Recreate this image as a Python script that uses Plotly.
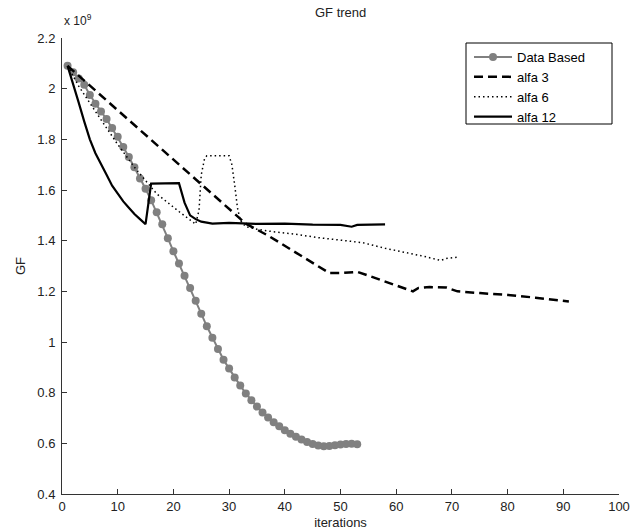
import plotly.graph_objects as go

# Values in units of 1e9 (axis shows "x 10^9")
data_x = list(range(1, 54))
data_y = [2.09, 2.065, 2.04, 2.015, 1.975, 1.94, 1.91, 1.88, 1.845, 1.81,
          1.77, 1.73, 1.69, 1.645, 1.605, 1.56, 1.512, 1.465, 1.41, 1.358,
          1.31, 1.262, 1.213, 1.163, 1.112, 1.062, 1.017, 0.972, 0.93, 0.895,
          0.86, 0.828, 0.797, 0.77, 0.745, 0.722, 0.702, 0.683, 0.667, 0.652,
          0.638, 0.626, 0.615, 0.605, 0.597, 0.591, 0.588, 0.589, 0.592, 0.595,
          0.597, 0.598, 0.596]

alfa3_x = [1, 10, 20, 30, 33, 37, 41, 45, 48, 50, 53, 55, 58, 61, 63, 64, 66, 69, 71, 75, 80, 85, 91]
alfa3_y = [2.09, 1.915, 1.72, 1.525, 1.467, 1.42, 1.365, 1.31, 1.272, 1.272, 1.277, 1.262, 1.238,
           1.213, 1.2, 1.213, 1.217, 1.215, 1.2, 1.193, 1.186, 1.175, 1.16]

alfa6_x = [1, 3, 6, 10, 13, 17, 21, 23, 24, 24.6, 25, 25.6, 26, 30, 30.5, 31, 31.5, 32, 33,
           35, 38, 42, 46, 50, 54, 58, 62, 65, 68, 69, 71]
alfa6_y = [2.09, 2.01, 1.91, 1.78, 1.69, 1.585, 1.515, 1.48, 1.465, 1.52, 1.66, 1.725, 1.735,
           1.735, 1.70, 1.62, 1.53, 1.48, 1.455, 1.445, 1.435, 1.425, 1.412, 1.402, 1.392, 1.37,
           1.353, 1.338, 1.322, 1.33, 1.335]

alfa12_x = [1, 2, 3, 4, 5, 6, 7, 8, 9, 10, 11, 12, 13, 14, 15, 16, 21, 22, 23, 24, 25, 27,
            30, 35, 40, 45, 50, 52, 53, 58]
alfa12_y = [2.09, 2.02, 1.945, 1.87, 1.80, 1.745, 1.70, 1.66, 1.617, 1.585, 1.555, 1.53, 1.505,
            1.485, 1.465, 1.625, 1.627, 1.55, 1.50, 1.485, 1.475, 1.467, 1.47, 1.466, 1.467,
            1.463, 1.462, 1.455, 1.462, 1.464]

x_ticks = list(range(0, 101, 10))
y_ticks = [0.4, 0.6, 0.8, 1.0, 1.2, 1.4, 1.6, 1.8, 2.0, 2.2]
y_ticktext = ["0.4", "0.6", "0.8", "1", "1.2", "1.4", "1.6", "1.8", "2", "2.2"]

FONT = "Liberation Sans, Arial, sans-serif"
TXT = "#222222"

W, H = 631, 530
M_L, M_R, M_T, M_B = 62, 12, 38, 36
PW, PH = W - M_L - M_R, H - M_T - M_B

def px_x(p):
    return (p - M_L) / PW

def px_y(p):
    return 1 - (p - M_T) / PH

fig = go.Figure()
fig.add_trace(go.Scatter(x=data_x, y=data_y, mode="lines+markers", name="Data Based",
                         line=dict(color="#808080", width=2),
                         marker=dict(color="#808080", size=8, symbol="circle")))
fig.add_trace(go.Scatter(x=alfa3_x, y=alfa3_y, mode="lines", name="alfa 3",
                         line=dict(color="black", width=2.5, dash="9px,5px")))
fig.add_trace(go.Scatter(x=alfa6_x, y=alfa6_y, mode="lines", name="alfa 6",
                         line=dict(color="black", width=1.5, dash="1.5px,3px")))
fig.add_trace(go.Scatter(x=alfa12_x, y=alfa12_y, mode="lines", name="alfa 12",
                         line=dict(color="black", width=2.2)))

axis_common = dict(showgrid=False, zeroline=False, showline=True, linecolor="#333333",
                   linewidth=1, ticks="inside", ticklen=5, tickcolor="#333333",
                   tickfont=dict(family=FONT, size=13, color=TXT), mirror=False,
                   automargin=False)

# legend frame (layout decoration)
fig.add_shape(type="rect", xref="paper", yref="paper",
              x0=px_x(466), x1=px_x(612), y0=px_y(124), y1=px_y(43),
              line=dict(color="black", width=1), fillcolor="white", layer="above")

fig.update_layout(
    width=W, height=H,
    margin=dict(l=M_L, r=M_R, t=M_T, b=M_B),
    paper_bgcolor="white", plot_bgcolor="white",
    showlegend=True,
    legend=dict(x=px_x(469), y=px_y(42), xanchor="left", yanchor="top",
                borderwidth=0, bgcolor="rgba(0,0,0,0)",
                font=dict(family=FONT, size=13, color="black"),
                itemwidth=38, tracegroupgap=0),
    font=dict(family=FONT, size=13, color=TXT),
)
fig.update_xaxes(range=[0, 100], tickvals=x_ticks, **axis_common,
                 title=dict(text="iterations", font=dict(family=FONT, size=13, color=TXT)))
fig.update_yaxes(range=[0.4, 2.2], tickvals=y_ticks, ticktext=y_ticktext, **axis_common,
                 ticklabelstandoff=3,
                 title=dict(text="GF", font=dict(family=FONT, size=13, color=TXT), standoff=8))

fig.add_annotation(text="GF trend", xref="paper", yref="paper", x=0.5, y=1,
                   yshift=16, yanchor="bottom", showarrow=False,
                   font=dict(family=FONT, size=13, color=TXT))
fig.add_annotation(text="x 10<sup>9</sup>", xref="paper", yref="paper", x=0, y=1,
                   xanchor="left", yanchor="bottom", yshift=8, showarrow=False,
                   font=dict(family=FONT, size=12, color=TXT))

fig.write_html("out.html")
